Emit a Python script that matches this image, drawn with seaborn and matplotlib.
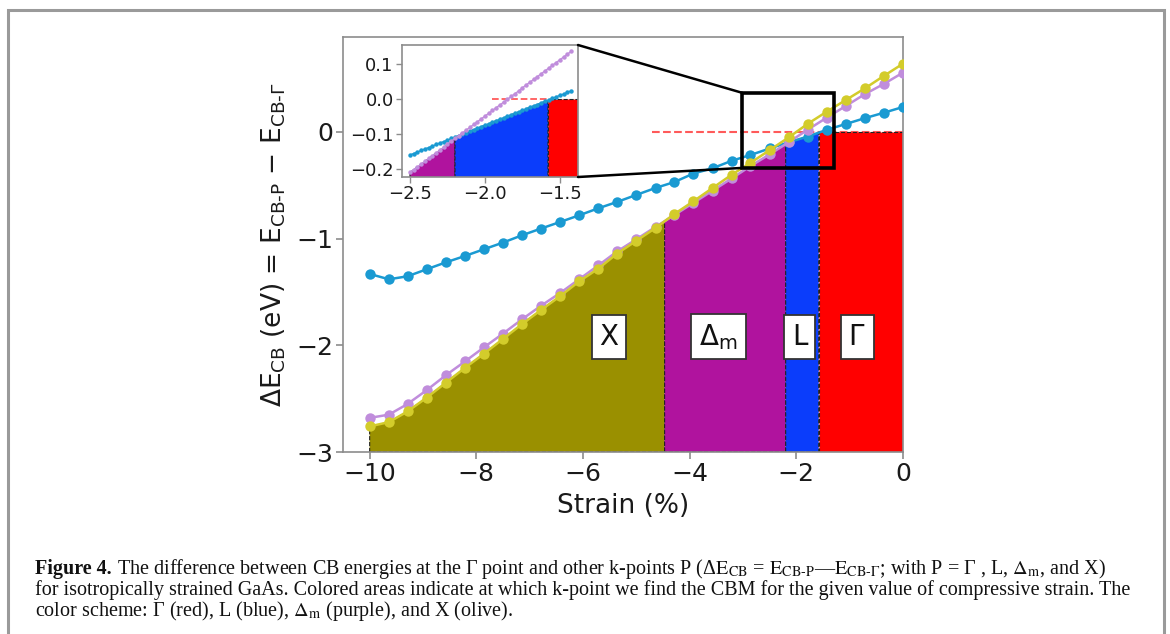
import numpy as np
import matplotlib
matplotlib.use("Agg")
import matplotlib.pyplot as plt
import seaborn as sns
from matplotlib.patches import Rectangle
from matplotlib.patches import ConnectionPatch

# ---------------- data ----------------
strain = [-10.00, -9.64, -9.29, -8.93, -8.57, -8.21, -7.86, -7.50, -7.14, -6.79,
          -6.43, -6.07, -5.71, -5.36, -5.00, -4.64, -4.29, -3.93, -3.57, -3.21,
          -2.86, -2.50, -2.14, -1.79, -1.43, -1.07, -0.71, -0.36, 0.00]
dE_X = [-2.76, -2.72, -2.62, -2.49, -2.35, -2.21, -2.08, -1.94, -1.80, -1.67,
        -1.54, -1.40, -1.28, -1.14, -1.02, -0.90, -0.77, -0.65, -0.525, -0.40,
        -0.29, -0.17, -0.05, 0.075, 0.19, 0.30, 0.41, 0.525, 0.64]
dE_Dm = [-2.68, -2.65, -2.55, -2.42, -2.28, -2.15, -2.02, -1.89, -1.755, -1.63,
         -1.51, -1.38, -1.25, -1.12, -1.006, -0.89, -0.78, -0.665, -0.55, -0.435,
         -0.32, -0.21, -0.095, 0.02, 0.134, 0.244, 0.356, 0.45, 0.556]
dE_L = [-1.331, -1.381, -1.353, -1.287, -1.222, -1.162, -1.100, -1.037, -0.968, -0.906,
        -0.844, -0.781, -0.715, -0.656, -0.59, -0.525, -0.47, -0.39, -0.34, -0.27,
        -0.216, -0.155, -0.096, -0.044, 0.02, 0.075, 0.13, 0.18, 0.234]

# inset (fine strain grid)
strain_fine = [-2.500, -2.475, -2.450, -2.425, -2.400, -2.375, -2.350, -2.325, -2.300, -2.275,
               -2.250, -2.225, -2.200, -2.175, -2.150, -2.125, -2.100, -2.075, -2.050, -2.025,
               -2.000, -1.975, -1.950, -1.925, -1.900, -1.875, -1.850, -1.825, -1.800, -1.775,
               -1.750, -1.725, -1.700, -1.675, -1.650, -1.625, -1.600, -1.575, -1.550, -1.525,
               -1.500, -1.475, -1.450, -1.425]
dE_Dm_fine = [-0.210, -0.202, -0.194, -0.186, -0.178, -0.170, -0.162, -0.154, -0.146, -0.138,
              -0.130, -0.121, -0.113, -0.105, -0.097, -0.089, -0.081, -0.073, -0.065, -0.057,
              -0.049, -0.041, -0.033, -0.025, -0.017, -0.009, -0.001, 0.007, 0.015, 0.023,
              0.032, 0.040, 0.048, 0.056, 0.064, 0.072, 0.080, 0.088, 0.096, 0.104,
              0.112, 0.120, 0.128, 0.136]
dE_L_fine = [-0.160, -0.156, -0.152, -0.147, -0.143, -0.139, -0.135, -0.130, -0.126, -0.122,
             -0.118, -0.113, -0.109, -0.105, -0.101, -0.096, -0.092, -0.088, -0.084, -0.079,
             -0.075, -0.071, -0.067, -0.062, -0.058, -0.054, -0.050, -0.045, -0.041, -0.037,
             -0.033, -0.028, -0.024, -0.020, -0.016, -0.011, -0.007, -0.003, 0.002, 0.006,
             0.010, 0.014, 0.019, 0.023]

# region boundaries (strain %) where the CBM changes k-point: X | Dm | L | Gamma
region_bounds = [-10.0, -4.47, -2.20, -1.58, 0.0]
region_labels = ["X", r"$\Delta_\mathrm{m}$", "L", r"$\Gamma$"]
label_pos_x = [-5.51, -3.46, -1.94, -0.86]
label_pos_y = -1.92

xticks = [-10, -8, -6, -4, -2, 0]
yticks = [-3, -2, -1, 0]
inset_xticks = [-2.5, -2.0, -1.5]
inset_yticks = [-0.2, -0.1, 0.0, 0.1]

caption_bold = "Figure 4."
caption_l1 = (" The difference between CB energies at the Γ point and other k-points P "
              r"(Δ$\mathrm{E}_{\mathrm{CB}}$ = $\mathrm{E}_{\mathrm{CB\text{-}P}}$—"
              r"$\mathrm{E}_{\mathrm{CB\text{-}\Gamma}}$; with P = Γ , L, $\Delta_{\mathrm{m}}$, and X)")
caption_l2 = ("for isotropically strained GaAs. Colored areas indicate at which k-point we find "
              "the CBM for the given value of compressive strain. The")
caption_l3 = r"color scheme: Γ (red), L (blue), $\Delta_{\mathrm{m}}$ (purple), and X (olive)."

# ---------------- style ----------------
sns.set_theme(style="ticks")
plt.rcParams["font.family"] = ["DejaVu Sans"]
plt.rcParams["mathtext.fontset"] = "dejavusans"
spine_c = "#8c8c8c"
plt.rcParams.update({
    "axes.edgecolor": spine_c, "xtick.color": spine_c, "ytick.color": spine_c,
    "xtick.labelcolor": "#1a1a1a", "ytick.labelcolor": "#1a1a1a",
    "axes.linewidth": 1.2,
})

c_line_L = "#1a9ad2"
c_line_Dm = "#c08ddc"
c_line_X = "#d3cc2b"
c_fill = ["#9a9000", "#b0139e", "#0b3dfb", "#ff0000"]

W, H = 1170, 634
fig = plt.figure(figsize=(W / 100, H / 100), dpi=100)
fig.patch.set_facecolor("white")

ax = fig.add_axes([343 / W, 1 - 452 / H, (903 - 343) / W, (452 - 37) / H])
ax.set_xlim(-10.5, 0.0)
ax.set_ylim(-3.0, 0.89)


def fill_regions(a, xs, curves, bounds, ybot, which):
    for i in which:
        x0, x1 = bounds[i], bounds[i + 1]
        if curves[i] is None:
            xr = np.array([x0, x1])
            yr = np.array([0.0, 0.0])
        else:
            inner = [v for v in xs if x0 < v < x1]
            xr = np.array([x0] + inner + [x1])
            yr = np.interp(xr, xs, curves[i])
        a.fill_between(xr, yr, ybot, facecolor=c_fill[i], edgecolor="#222222",
                       linestyle="--", linewidth=0.8, zorder=1)


ax.hlines(0, -4.71, 0, colors="#ff5a5a", linestyles="--", linewidth=1.5, zorder=0.5)
fill_regions(ax, np.array(strain), [np.array(dE_X), np.array(dE_Dm), np.array(dE_L), None],
             region_bounds, -3.0, [0, 1, 2, 3])

for yv, col in [(dE_L, c_line_L), (dE_Dm, c_line_Dm), (dE_X, c_line_X)]:
    sns.lineplot(x=strain, y=yv, ax=ax, color=col, marker="o", markersize=7.5,
                 markeredgewidth=0, linewidth=1.8, zorder=3)

for lab, lx in zip(region_labels, label_pos_x):
    ax.text(lx, label_pos_y, lab, ha="center", va="center", fontsize=20, color="#111111",
            zorder=5, bbox=dict(boxstyle="square,pad=0.28", fc="white", ec="#333333", lw=1.3))

ax.set_xticks(xticks)
ax.set_yticks(yticks)
ax.tick_params(labelsize=18, length=5, width=1.2, pad=2)
ax.set_xlabel("Strain (%)", fontsize=19, color="#1a1a1a", labelpad=5)
ax.set_ylabel(r"$\Delta\mathrm{E}_{\mathrm{CB}}$ (eV) = $\mathrm{E}_{\mathrm{CB\text{-}P}}$ $-$ "
              r"$\mathrm{E}_{\mathrm{CB\text{-}\Gamma}}$", fontsize=19, color="#1a1a1a", labelpad=6)

# zoom rectangle
rect_x0, rect_x1, rect_y0, rect_y1 = -3.01, -1.29, -0.337, 0.366
ax.add_patch(Rectangle((rect_x0, rect_y0), rect_x1 - rect_x0, rect_y1 - rect_y0,
                       fill=False, ec="black", lw=2.6, zorder=6))

# ---------------- inset ----------------
axin = fig.add_axes([402 / W, 1 - 177 / H, (578 - 402) / W, (177 - 45) / H])
axin.set_xlim(-2.553, -1.38)
axin.set_ylim(-0.223, 0.154)
fill_regions(axin, np.array(strain_fine), [None, np.array(dE_Dm_fine), np.array(dE_L_fine), None],
             [-3.0, -2.5, -2.20, -1.58, 0.0], -1.0, [1, 2, 3])
axin.hlines(0, -1.95, -1.58, colors="#ff5a5a", linestyles="--", linewidth=1.3, zorder=0.5)
for yv, col in [(dE_L_fine, c_line_L), (dE_Dm_fine, c_line_Dm)]:
    sns.lineplot(x=strain_fine, y=yv, ax=axin, color=col, marker="o", markersize=3.2,
                 markeredgewidth=0, linewidth=1.0, zorder=3)
axin.set_xticks(inset_xticks)
axin.set_yticks(inset_yticks)
axin.set_xticklabels(["\u22122.5", "\u22122.0", "\u22121.5"])
axin.set_yticklabels(["\u22120.2", "\u22120.1", "0.0", "0.1"])
axin.tick_params(labelsize=13, length=4, width=1.0, pad=2)
for s in axin.spines.values():
    s.set_linewidth(1.2)

for fa, yb in [((1, 1), rect_y1), ((1, 0), rect_y0)]:
    con = ConnectionPatch(xyA=fa, coordsA=axin.transAxes, xyB=(rect_x0, yb), coordsB=ax.transData,
                          color="black", lw=1.8, zorder=7)
    fig.add_artist(con)

# ---------------- frame + caption ----------------
fig.add_artist(Rectangle((8 / W, -0.05), (1164 - 8) / W, 1 - 10 / H + 0.05,
                         transform=fig.transFigure, fill=False, ec="#9a9a9a", lw=2.2,
                         clip_on=False))

cap_font = dict(family=["Liberation Serif", "DejaVu Serif"], size=14.5, color="#111111",
                math_fontfamily="stix")
x_cap = 35 / W
t_b = fig.text(x_cap, 1 - 574 / H, caption_bold, va="baseline", ha="left", weight="bold", **cap_font)
fig.canvas.draw()
bb = t_b.get_window_extent()
fig.text(bb.x1 / W, 1 - 574 / H, caption_l1, va="baseline", ha="left", **cap_font)
fig.text(x_cap, 1 - 595 / H, caption_l2, va="baseline", ha="left", **cap_font)
fig.text(x_cap, 1 - 616 / H, caption_l3, va="baseline", ha="left", **cap_font)

fig.savefig("out.png", dpi=100)
